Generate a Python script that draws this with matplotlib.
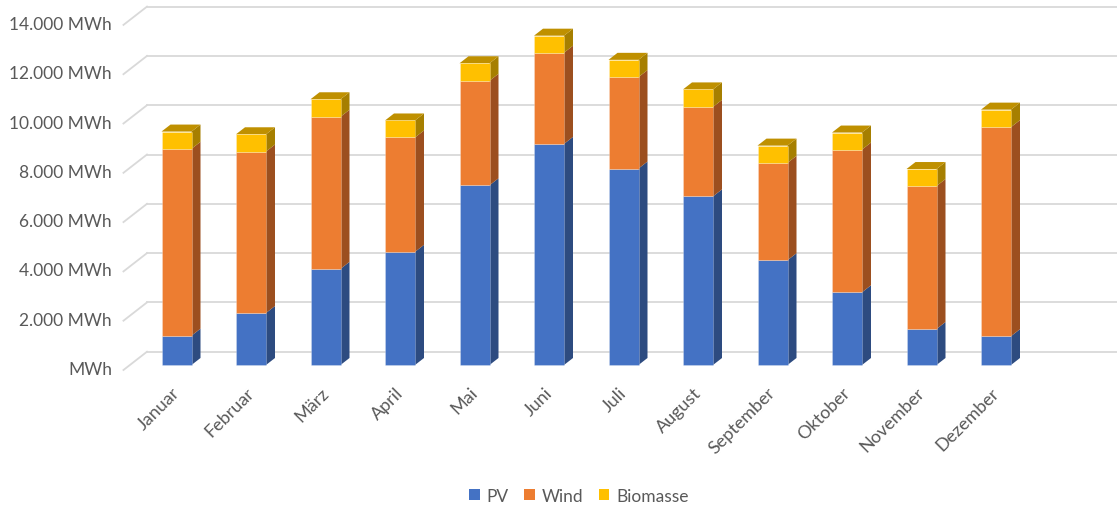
import numpy as np
import matplotlib
matplotlib.use("Agg")
from matplotlib import pyplot as plt
from matplotlib.patches import Polygon, Patch

plt.rcParams['font.family'] = ['Lato', 'DejaVu Sans']

months = ["Januar", "Februar", "März", "April", "Mai", "Juni", "Juli",
          "August", "September", "Oktober", "November", "Dezember"]
pv = [1190, 2110, 3900, 4590, 7290, 8970, 7970, 6840, 4250, 2950, 1460, 1170]
wind = [7580, 6550, 6170, 4640, 4240, 3700, 3710, 3630, 3950, 5790, 5800, 8480]
biomasse = [700, 700, 710, 690, 710, 690, 700, 710, 700, 690, 690, 710]
yticks = [0, 2000, 4000, 6000, 8000, 10000, 12000, 14000]

series = [("PV", pv, "#4472C4", "#2D4B80", None),
          ("Wind", wind, "#ED7D31", "#9C4F1F", None),
          ("Biomasse", biomasse, "#FFC000", "#A67F00", "#BF9000")]

# pixel geometry of the excel 3d look
W, H = 1117, 506
px_cat = 74.5        # pixels between bars
px_per_mwh = 0.02465
x0_px, y0_px = 176.5, 366.0   # first bar centre, zero line of bar fronts

def dx(px):
    return px / px_cat

def dy(px):
    return px / px_per_mwh

fig = plt.figure(figsize=(W / 100, H / 100), dpi=100)
ax = fig.add_axes([0, 0, 1, 1])
ax.set_xlim(dx(-x0_px), dx(W - x0_px))
ax.set_ylim(-dy(H - y0_px), dy(y0_px))
ax.axis("off")

txt = "#595959"
grid = "#D9D9D9"

# walls: back wall is 13.3 px deeper, floor front edge 5 px in front
back_dy, front_dy = dy(13.3), -dy(5.0)
back_x = dx(147 - x0_px)
front_x = back_x - dx(18.3 * 9 / 7)
for v in yticks:
    ax.plot([front_x, back_x], [v + front_dy, v + back_dy], color=grid, lw=1.3, zorder=1)
    ax.plot([back_x, dx(W - x0_px)], [v + back_dy, v + back_dy], color=grid, lw=1.3, zorder=1)
    lab = ("{:,}".format(v).replace(",", ".") + " MWh") if v else "MWh"
    ax.text(dx(112 - x0_px), v + front_dy + dy(1), lab, ha="right", va="center",
            fontsize=12.5, color=txt)

# bars
x = np.arange(len(months))
w = dx(30)
ddx, ddy = dx(9), dy(7)
bottom = np.zeros(len(months))
for name, vals, c_front, c_side, c_top in series:
    vals = np.array(vals, dtype=float)
    ax.bar(x, vals, bottom=bottom, width=w, color=c_front, zorder=3,
           edgecolor="#ffffff55", linewidth=0.5)
    for i in x:
        b, t = bottom[i], bottom[i] + vals[i]
        r = x[i] + w / 2
        ax.add_patch(Polygon([(r, b), (r + ddx, b + ddy), (r + ddx, t + ddy), (r, t)],
                             closed=True, facecolor=c_side, edgecolor="none", zorder=2))
        if c_top is not None:
            l = x[i] - w / 2
            ax.add_patch(Polygon([(l, t), (r, t), (r + ddx, t + ddy), (l + ddx, t + ddy)],
                                 closed=True, facecolor=c_top, edgecolor="none", zorder=2))
    bottom = bottom + vals

for i, m in enumerate(months):
    ax.text(x[i] + dx(-5), -dy(19), m, rotation=45, rotation_mode="anchor",
            ha="right", va="top", fontsize=13, color=txt)

handles = [Patch(facecolor=c, edgecolor="none", label=n) for n, _, c, _, _ in series]
fig.legend(handles=handles, loc="center", bbox_to_anchor=(579 / W, 1 - 497 / H), ncol=3,
           frameon=False, fontsize=12.5, handlelength=0.6, handleheight=0.6,
           handletextpad=0.4, columnspacing=0.9, labelcolor=txt)

fig.savefig("out.png", dpi=100)
